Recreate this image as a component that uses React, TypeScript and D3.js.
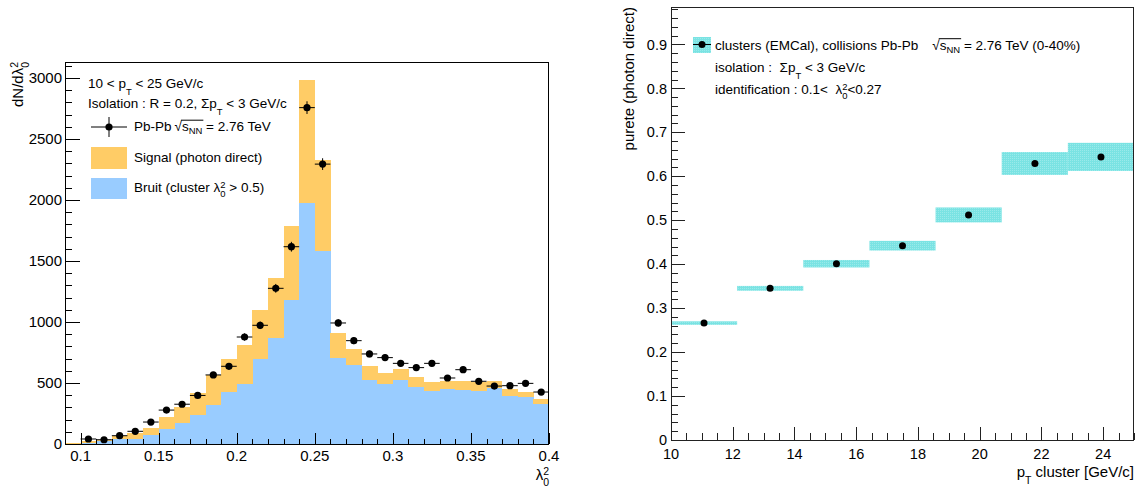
import React, { useEffect, useRef } from 'react';
import * as d3 from 'd3';

// ---------- Left panel: lambda0^2 distribution ----------
const lambdaBinLow = [0.09, 0.10, 0.11, 0.12, 0.13, 0.14, 0.15, 0.16, 0.17, 0.18, 0.19, 0.20, 0.21, 0.22, 0.23, 0.24, 0.25, 0.26, 0.27, 0.28, 0.29, 0.30, 0.31, 0.32, 0.33, 0.34, 0.35, 0.36, 0.37, 0.38, 0.39];
const lambdaBinWidth = 0.01;
const bruitCounts = [3, 11, 25, 41, 41, 72, 119, 171, 238, 317, 428, 493, 697, 869, 1180, 1978, 1585, 708, 648, 527, 492, 527, 470, 434, 451, 445, 432, 459, 396, 383, 331];
const signalCounts = [5, 14, 8, 22, 47, 61, 106, 132, 177, 246, 270, 316, 399, 492, 607, 1006, 740, 204, 128, 112, 93, 88, 79, 74, 65, 71, 79, 55, 52, 43, 41];
const dataLambda = [0.105, 0.115, 0.125, 0.135, 0.145, 0.155, 0.165, 0.175, 0.185, 0.195, 0.205, 0.215, 0.225, 0.235, 0.245, 0.255, 0.265, 0.275, 0.285, 0.295, 0.305, 0.315, 0.325, 0.335, 0.345, 0.355, 0.365, 0.375, 0.385, 0.395];
const dataCounts = [41, 35, 68, 104, 180, 278, 326, 398, 566, 637, 877, 973, 1276, 1617, 2757, 2294, 992, 847, 738, 708, 661, 626, 661, 541, 609, 514, 475, 478, 497, 426];
const dataErrors = [6, 6, 8, 10, 13, 17, 18, 20, 24, 25, 30, 31, 36, 40, 52, 48, 31, 29, 27, 27, 26, 25, 26, 23, 25, 23, 22, 22, 22, 21];
const leftXTicks = [0.1, 0.15, 0.2, 0.25, 0.3, 0.35, 0.4];
const leftXTickLabels = ['0.1', '0.15', '0.2', '0.25', '0.3', '0.35', '0.4'];
const leftYTicks = [0, 500, 1000, 1500, 2000, 2500, 3000];
const leftYTickLabels = ['0', '500', '1000', '1500', '2000', '2500', '3000'];

// ---------- Right panel: purity vs pT ----------
const ptBinEdges = [10, 12.143, 14.286, 16.429, 18.571, 20.714, 22.857, 25];
const ptCenters = [11.07, 13.21, 15.36, 17.5, 19.64, 21.79, 23.93];
const purity = [0.266, 0.345, 0.401, 0.442, 0.512, 0.629, 0.644];
const puritySys = [0.004, 0.0055, 0.0085, 0.011, 0.017, 0.026, 0.032];
const rightXTicks = [10, 12, 14, 16, 18, 20, 22, 24];
const rightXTickLabels = ['10', '12', '14', '16', '18', '20', '22', '24'];
const rightYTicks = [0, 0.1, 0.2, 0.3, 0.4, 0.5, 0.6, 0.7, 0.8, 0.9];
const rightYTickLabels = ['0', '0.1', '0.2', '0.3', '0.4', '0.5', '0.6', '0.7', '0.8', '0.9'];

const FONT = "'Liberation Sans', Arial, Helvetica, sans-serif";
const ORANGE = '#ffcc66';
const BLUE = '#99ccff';

type Part = {
  t?: string;
  sub?: string;
  dy?: number;
  stack?: [string, string];
  sqrt?: [string, string];
  gap?: number;
};

function rich(parent: any, parts: Part[], fs: number) {
  const g = parent.append('g');
  let x = 0;
  const add = (t: string, size: number, dy: number) => {
    const el = g
      .append('text')
      .attr('x', x)
      .attr('y', dy)
      .attr('font-size', size)
      .attr('font-family', FONT)
      .attr('fill', '#000')
      .style('white-space', 'pre')
      .text(t);
    const w = (el.node() as SVGTextElement).getComputedTextLength();
    return w;
  };
  for (const p of parts) {
    if (p.gap !== undefined) {
      x += p.gap;
    } else if (p.sub !== undefined) {
      x += add(p.sub, fs * 0.7, fs * (p.dy ?? 0.45));
    } else if (p.stack) {
      const a = add(p.stack[0], fs * 0.7, -fs * 0.33);
      const b = add(p.stack[1], fs * 0.7, fs * 0.4);
      x += Math.max(a, b);
    } else if (p.sqrt) {
      x += add('\u221A', fs, 0);
      const x0 = x;
      x += add(p.sqrt[0], fs, 0);
      x += add(p.sqrt[1], fs * 0.7, fs * 0.25);
      g.append('line')
        .attr('x1', x0 - 1)
        .attr('x2', x + 1)
        .attr('y1', -fs * 0.8)
        .attr('y2', -fs * 0.8)
        .attr('stroke', '#000')
        .attr('stroke-width', 1);
    } else if (p.t !== undefined) {
      x += add(p.t, fs, 0);
    }
  }
  return { g, w: x };
}

function place(parent: any, parts: Part[], fs: number, x: number, y: number, anchor: 'start' | 'end' | 'middle' = 'start') {
  const { g, w } = rich(parent, parts, fs);
  const dx = anchor === 'end' ? -w : anchor === 'middle' ? -w / 2 : 0;
  g.attr('transform', `translate(${x + dx},${y})`);
  return g;
}

function placeRotated(parent: any, parts: Part[], fs: number, bx: number, topY: number) {
  const { g, w } = rich(parent, parts, fs);
  g.attr('transform', `translate(${bx},${topY}) rotate(-90) translate(${-w},0)`);
  return g;
}

function draw(svgEl: SVGSVGElement) {
  const svg = d3.select(svgEl);
  svg.selectAll('*').remove();

  const defs = svg.append('defs');
  const pat = defs
    .append('pattern')
    .attr('id', 'cyanDots')
    .attr('patternUnits', 'userSpaceOnUse')
    .attr('width', 2)
    .attr('height', 2);
  pat.append('rect').attr('width', 2).attr('height', 2).attr('fill', '#7ae3e3');
  pat.append('rect').attr('x', 0).attr('y', 0).attr('width', 1).attr('height', 1).attr('fill', '#9aeaea');

  svg.append('rect').attr('width', 1141).attr('height', 490).attr('fill', '#fff');

  // ================= LEFT PANEL =================
  const L = { left: 65, right: 549, top: 62, bottom: 444 };
  const xL = d3.scaleLinear().domain([0.09, 0.4]).range([L.left, L.right]);
  const yL = d3.scaleLinear().domain([0, 3131]).range([L.bottom, L.top]);

  const rows = lambdaBinLow.map((low, i) => ({ low, bruit: bruitCounts[i], signal: signalCounts[i] }));
  const stacked = d3.stack<any>().keys(['bruit', 'signal'])(rows);
  const colors: Record<string, string> = { bruit: BLUE, signal: ORANGE };
  const gBars = svg.append('g').attr('shape-rendering', 'crispEdges');
  stacked.forEach((layer) => {
    gBars
      .append('g')
      .attr('fill', colors[layer.key])
      .selectAll('rect')
      .data(layer)
      .join('rect')
      .attr('x', (d: any) => xL(d.data.low))
      .attr('width', (d: any) => xL(d.data.low + lambdaBinWidth) - xL(d.data.low) + 0.3)
      .attr('y', (d: any) => yL(d[1]))
      .attr('height', (d: any) => yL(d[0]) - yL(d[1]));
  });

  // data points
  const gPts = svg.append('g');
  dataLambda.forEach((lx, i) => {
    const cx = xL(lx);
    const cy = yL(dataCounts[i]);
    gPts.append('line')
      .attr('x1', xL(lx - lambdaBinWidth / 2)).attr('x2', xL(lx + lambdaBinWidth / 2))
      .attr('y1', cy).attr('y2', cy).attr('stroke', '#000').attr('stroke-width', 1);
    gPts.append('line')
      .attr('x1', cx).attr('x2', cx)
      .attr('y1', yL(dataCounts[i] - dataErrors[i])).attr('y2', yL(dataCounts[i] + dataErrors[i]))
      .attr('stroke', '#000').attr('stroke-width', 1);
    gPts.append('circle').attr('cx', cx).attr('cy', cy).attr('r', 3.6).attr('fill', '#000');
  });

  // frame
  svg.append('rect')
    .attr('x', L.left + 0.5).attr('y', L.top + 0.5)
    .attr('width', L.right - L.left - 1).attr('height', L.bottom - L.top)
    .attr('fill', 'none').attr('stroke', '#000').attr('stroke-width', 1);

  const gAxL = svg.append('g').attr('stroke', '#000').attr('stroke-width', 1).attr('shape-rendering', 'crispEdges');
  d3.range(0, 3101, 100).forEach((v) => {
    const major = v % 500 === 0;
    const y = Math.round(yL(v)) + 0.5;
    gAxL.append('line').attr('x1', L.left).attr('x2', L.left + (major ? 15 : 7)).attr('y1', y).attr('y2', y);
  });
  d3.range(9, 41).forEach((k) => {
    const v = k / 100;
    const major = k % 5 === 0;
    const x = Math.round(xL(v)) + 0.5;
    gAxL.append('line').attr('x1', x).attr('x2', x).attr('y1', L.bottom).attr('y2', L.bottom - (major ? 11 : 5.5));
  });
  leftYTicks.forEach((v, i) => {
    svg.append('text').attr('x', L.left - 3).attr('y', yL(v) + 5.3)
      .attr('text-anchor', 'end').attr('font-size', 15).attr('font-family', FONT).text(leftYTickLabels[i]);
  });
  leftXTicks.forEach((v, i) => {
    svg.append('text').attr('x', xL(v)).attr('y', 461)
      .attr('text-anchor', 'middle').attr('font-size', 15).attr('font-family', FONT).text(leftXTickLabels[i]);
  });

  placeRotated(svg, [{ t: 'dN/d\u03BB' }, { stack: ['2', '0'] }], 15, 23, 62);
  place(svg, [{ t: '\u03BB' }, { stack: ['2', '0'] }], 15, 549, 480, 'end');

  const fsL = 13.5;
  place(svg, [{ t: '10 < p' }, { sub: 'T', dy: 0.5 }, { t: ' < 25 GeV/c' }], fsL, 88, 88);
  place(svg, [{ t: 'Isolation : R = 0.2, \u03A3p' }, { sub: 'T', dy: 0.5 }, { t: ' < 3 GeV/c' }], fsL, 88, 108);
  svg.append('line').attr('x1', 91).attr('x2', 127).attr('y1', 127).attr('y2', 127).attr('stroke', '#000');
  svg.append('line').attr('x1', 109).attr('x2', 109).attr('y1', 117).attr('y2', 137).attr('stroke', '#000');
  svg.append('circle').attr('cx', 109).attr('cy', 127).attr('r', 3.6).attr('fill', '#000');
  place(svg, [{ t: 'Pb-Pb' }, { gap: 3 }, { sqrt: ['s', 'NN'] }, { t: ' = 2.76 TeV' }], fsL, 134, 131);
  svg.append('rect').attr('x', 91).attr('y', 147).attr('width', 36).attr('height', 22).attr('fill', ORANGE);
  place(svg, [{ t: 'Signal (photon direct)' }], fsL, 134, 162);
  svg.append('rect').attr('x', 91).attr('y', 178).attr('width', 36).attr('height', 21).attr('fill', BLUE);
  place(svg, [{ t: 'Bruit (cluster \u03BB' }, { stack: ['2', '0'] }, { t: ' > 0.5)' }], fsL, 134, 192);

  // ================= RIGHT PANEL =================
  const R = { left: 671, right: 1134, top: 7, bottom: 440 };
  const xR = d3.scaleLinear().domain([10, 25]).range([R.left, R.right]);
  const yR = d3.scaleLinear().domain([0, 0.985]).range([R.bottom, R.top]);

  const gBox = svg.append('g');
  purity.forEach((p, i) => {
    gBox.append('rect')
      .attr('x', xR(ptBinEdges[i])).attr('width', xR(ptBinEdges[i + 1]) - xR(ptBinEdges[i]))
      .attr('y', yR(p + puritySys[i])).attr('height', yR(p - puritySys[i]) - yR(p + puritySys[i]))
      .attr('fill', 'url(#cyanDots)');
  });
  purity.forEach((p, i) => {
    svg.append('circle').attr('cx', xR(ptCenters[i])).attr('cy', yR(p)).attr('r', 3.5).attr('fill', '#000');
  });

  svg.append('rect')
    .attr('x', R.left + 0.5).attr('y', R.top + 0.5)
    .attr('width', R.right - R.left - 1).attr('height', R.bottom - R.top)
    .attr('fill', 'none').attr('stroke', '#222').attr('stroke-width', 1);

  const gAxR = svg.append('g').attr('stroke', '#222').attr('stroke-width', 1).attr('shape-rendering', 'crispEdges');
  d3.range(0, 50).forEach((k) => {
    const v = k * 0.02;
    if (v > 0.985) return;
    const major = k % 5 === 0;
    const y = Math.round(yR(v)) + 0.5;
    gAxR.append('line').attr('x1', R.left).attr('x2', R.left + (major ? 14 : 7)).attr('y1', y).attr('y2', y);
  });
  d3.range(20, 51).forEach((k) => {
    const v = k / 2;
    const major = k % 4 === 0;
    const x = Math.round(xR(v)) + 0.5;
    gAxR.append('line').attr('x1', x).attr('x2', x).attr('y1', R.bottom).attr('y2', R.bottom - (major ? 13 : 7));
  });
  rightYTicks.forEach((v, i) => {
    svg.append('text').attr('x', R.left - 4).attr('y', yR(v) + 5.2)
      .attr('text-anchor', 'end').attr('font-size', 14.5).attr('font-family', FONT).text(rightYTickLabels[i]);
  });
  rightXTicks.forEach((v, i) => {
    svg.append('text').attr('x', xR(v)).attr('y', 459)
      .attr('text-anchor', 'middle').attr('font-size', 14.5).attr('font-family', FONT).text(rightXTickLabels[i]);
  });

  placeRotated(svg, [{ t: 'purete (photon direct)' }], 15, 634, 7);
  place(svg, [{ t: 'p' }, { sub: 'T', dy: 0.45 }, { t: ' cluster [GeV/c]' }], 15, 1134, 477, 'end');

  svg.append('rect').attr('x', 693).attr('y', 37).attr('width', 18).attr('height', 16).attr('fill', 'url(#cyanDots)');
  svg.append('line').attr('x1', 693).attr('x2', 711).attr('y1', 44.5).attr('y2', 44.5).attr('stroke', '#000');
  svg.append('circle').attr('cx', 702).attr('cy', 44.5).attr('r', 3.5).attr('fill', '#000');
  const fsR = 13.5;
  place(svg, [{ t: 'clusters (EMCal), collisions Pb-Pb' }, { gap: 14 }, { sqrt: ['s', 'NN'] }, { t: ' = 2.76 TeV (0-40%)' }], fsR, 715, 49.5);
  place(svg, [{ t: 'isolation :  \u03A3p' }, { sub: 'T', dy: 0.5 }, { t: ' < 3 GeV/c' }], fsR, 715, 72);
  place(svg, [{ t: 'identification : 0.1<  \u03BB' }, { stack: ['2', '0'] }, { t: '<0.27' }], fsR, 715, 94);
}

export default function App() {
  const ref = useRef<SVGSVGElement>(null);
  useEffect(() => {
    if (ref.current) draw(ref.current);
  }, []);
  return (
    <svg
      ref={ref}
      width={1141}
      height={490}
      style={{ position: 'absolute', left: 0, top: 0, background: '#fff' }}
    />
  );
}
